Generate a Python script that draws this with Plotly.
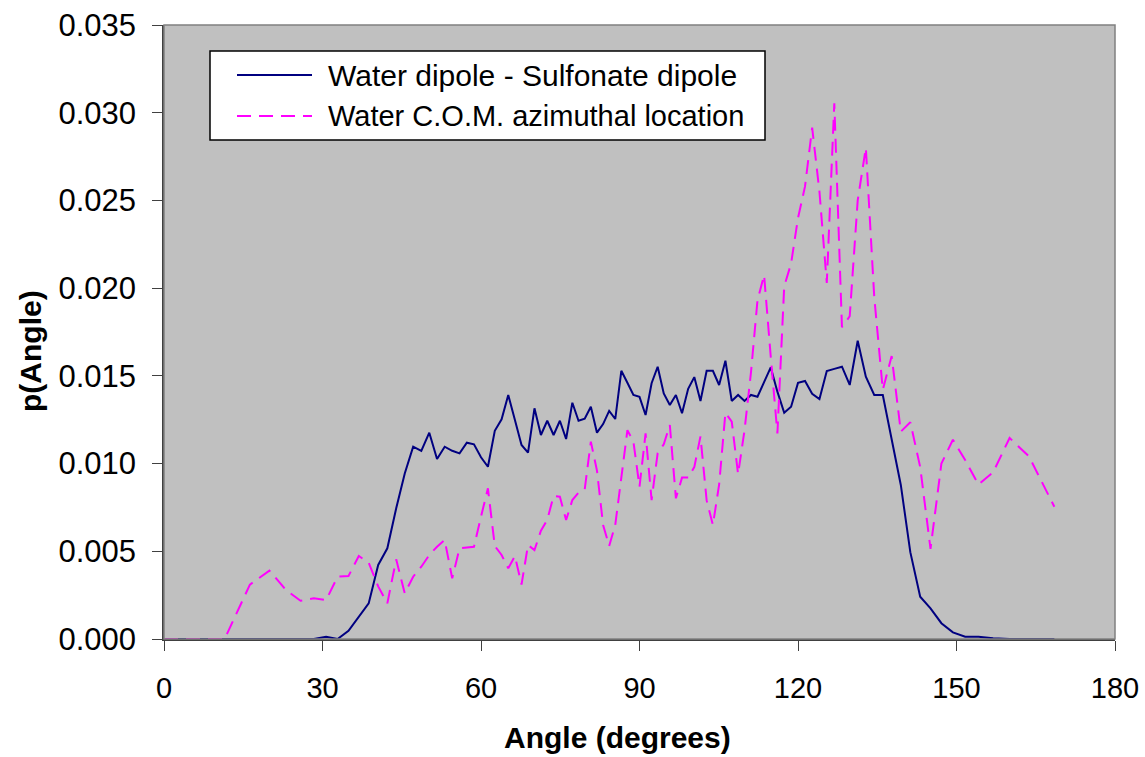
import plotly.graph_objects as go

# Bin angles (degrees)
angle = [0.00, 11.48, 16.26, 19.95, 23.07, 25.84, 28.36, 30.68, 32.86, 34.92,
         36.87, 38.74, 40.54, 42.27, 43.95, 45.57, 47.16, 48.70, 50.21, 51.68,
         53.13, 54.55, 55.94, 57.32, 58.67, 60.00, 61.31, 62.61, 63.90, 65.16,
         66.42, 67.67, 68.90, 70.12, 71.34, 72.54, 73.74, 74.93, 76.11, 77.29,
         78.46, 79.63, 80.79, 81.95, 83.11, 84.26, 85.41, 86.56, 87.71, 88.85,
         90.00, 91.15, 92.29, 93.44, 94.59, 95.74, 96.89, 98.05, 99.21, 100.37,
         101.54, 102.71, 103.89, 105.07, 106.26, 107.46, 108.66, 109.88, 111.10, 112.33,
         113.58, 114.84, 116.10, 117.39, 118.69, 120.00, 121.33, 122.68, 124.06, 125.45,
         126.87, 128.32, 129.79, 131.30, 132.84, 134.43, 136.05, 137.73, 139.46, 141.26,
         143.13, 145.08, 147.14, 149.32, 151.64, 154.16, 156.93, 160.05, 163.74, 168.52]

dipole = [0, 0, 0, 0, 0, 0, 0, 0.00013, 0.0, 0.00047,
          0.00127, 0.00203, 0.00422, 0.00517, 0.00745, 0.00944, 0.01096, 0.01072, 0.01176, 0.01026,
          0.01096, 0.01073, 0.01058, 0.01119, 0.0111, 0.01036, 0.00982, 0.01187, 0.01252, 0.01391,
          0.01248, 0.01106, 0.01062, 0.01315, 0.01163, 0.01244, 0.01163, 0.01244, 0.0114, 0.01347,
          0.01244, 0.01256, 0.01324, 0.01176, 0.01225, 0.0130, 0.01254, 0.01529, 0.01461, 0.01391,
          0.01380, 0.01277, 0.01458, 0.01552, 0.0140, 0.01334, 0.01391, 0.01287, 0.01426, 0.01493,
          0.01357, 0.01529, 0.01529, 0.01448, 0.01586, 0.01357, 0.01391, 0.01357, 0.01391, 0.01381,
          0.01464, 0.01548, 0.0141, 0.0129, 0.01324, 0.01460, 0.01471, 0.01398, 0.01368, 0.01528,
          0.0154, 0.01552, 0.01448, 0.0170, 0.01495, 0.01391, 0.01391, 0.01134, 0.00878, 0.00495,
          0.00241, 0.00175, 0.0009, 0.00038, 0.00013, 0.00013, 0.00004, 0.0, 0.0, 0.0]

azimuthal = [0, 0, 0.0031, 0.0039, 0.0028, 0.00218, 0.00232, 0.00222, 0.00355, 0.00359,
             0.00473, 0.00435, 0.0030, 0.00203, 0.00454, 0.0026, 0.00355, 0.00412, 0.00479, 0.00526,
             0.00564, 0.00346, 0.00517, 0.00523, 0.00526, 0.00697, 0.00859, 0.0053, 0.00479, 0.00403,
             0.00473, 0.0031, 0.00536, 0.00507, 0.00617, 0.0068, 0.00815, 0.00811, 0.00678, 0.00792,
             0.00834, 0.00853, 0.01125, 0.0096, 0.0065, 0.0053, 0.0065, 0.0092, 0.0119, 0.01125,
             0.00868, 0.01172, 0.00792, 0.0106, 0.0111, 0.0122, 0.00802, 0.0092, 0.0092, 0.0098,
             0.01155, 0.0079, 0.0065, 0.0088, 0.0129, 0.01239, 0.0094, 0.0119, 0.0152, 0.0193,
             0.02075, 0.0161, 0.01172, 0.0201, 0.0214, 0.0240, 0.0258, 0.02915, 0.0255, 0.0203,
             0.03054, 0.01777, 0.0184, 0.0250, 0.0280, 0.0195, 0.0142, 0.01613, 0.01182, 0.01236,
             0.0098, 0.00514, 0.0100, 0.01136, 0.0102, 0.0088, 0.0095, 0.01146, 0.0104, 0.00754]

series_names = ["Water dipole - Sulfonate dipole", "Water C.O.M. azimuthal location"]
x_ticks = [0, 30, 60, 90, 120, 150, 180]
y_ticks = [0.000, 0.005, 0.010, 0.015, 0.020, 0.025, 0.030, 0.035]

FONT = "Liberation Sans, Arial, sans-serif"
BLUE = "#000080"
MAGENTA = "#FF00FF"
DASH = "14px,8px"

# plot-area geometry in pixels (for placing the legend box / titles)
W, H = 1145, 757
L, R, T, B = 164, 1115, 25, 639
PW, PH = R - L, B - T


def px(xp):
    return (xp - L) / PW


def py(yp):
    return (B - yp) / PH


fig = go.Figure()
fig.add_trace(go.Scatter(
    x=angle, y=dipole, mode="lines", name=series_names[0],
    line=dict(color=BLUE, width=2), showlegend=False))
fig.add_trace(go.Scatter(
    x=angle, y=azimuthal, mode="lines", name=series_names[1],
    line=dict(color=MAGENTA, width=2, dash=DASH), showlegend=False))

shapes = [
    # plot-area border
    dict(type="rect", xref="paper", yref="paper", x0=0, y0=0, x1=1, y1=1,
         line=dict(color="#808080", width=1.5), layer="above"),
    # legend box
    dict(type="rect", xref="paper", yref="paper",
         x0=px(210), x1=px(765), y0=py(140), y1=py(51),
         line=dict(color="black", width=1.5), fillcolor="white", layer="above"),
    # legend samples
    dict(type="line", xref="paper", yref="paper",
         x0=px(237), x1=px(312), y0=py(75), y1=py(75),
         line=dict(color=BLUE, width=2), layer="above"),
    dict(type="line", xref="paper", yref="paper",
         x0=px(237), x1=px(312), y0=py(116), y1=py(116),
         line=dict(color=MAGENTA, width=2, dash=DASH), layer="above"),
]

annotations = [
    dict(text=series_names[0], xref="paper", yref="paper", x=px(326), y=py(75),
         xanchor="left", yanchor="middle", showarrow=False,
         font=dict(family=FONT, size=30, color="black")),
    dict(text=series_names[1], xref="paper", yref="paper", x=px(326), y=py(116),
         xanchor="left", yanchor="middle", showarrow=False,
         font=dict(family=FONT, size=29, color="black")),
    dict(text="<b>Angle (degrees)</b>", xref="paper", yref="paper",
         x=px(617), y=py(737), xanchor="center", yanchor="middle",
         showarrow=False, font=dict(family=FONT, size=30, color="black")),
    dict(text="<b>p(Angle)</b>", xref="paper", yref="paper",
         x=px(30), y=py(351), xanchor="center", yanchor="middle",
         textangle=-90, showarrow=False, font=dict(family=FONT, size=30, color="black")),
]

fig.update_layout(
    width=W, height=H,
    margin=dict(l=L, r=W - R, t=T, b=H - B, pad=0, autoexpand=False),
    paper_bgcolor="white", plot_bgcolor="#C0C0C0",
    font=dict(family=FONT, size=29, color="black"),
    showlegend=False,
    xaxis=dict(
        range=[0, 180], tickvals=x_ticks, ticktext=[str(v) for v in x_ticks],
        ticks="outside", ticklen=10, tickwidth=1, tickcolor="#404040",
        showgrid=False, zeroline=False, showline=True, linecolor="#404040", linewidth=1.5,
        tickfont=dict(family=FONT, size=29), ticklabelstandoff=12, automargin=False,
    ),
    yaxis=dict(
        range=[0, 0.035], tickvals=y_ticks, ticktext=[f"{v:.3f}" for v in y_ticks],
        ticks="outside", ticklen=10, tickwidth=1, tickcolor="#404040",
        showgrid=False, zeroline=False, showline=True, linecolor="#404040", linewidth=1.5,
        tickfont=dict(family=FONT, size=31), ticklabelstandoff=10, automargin=False,
    ),
    shapes=shapes,
    annotations=annotations,
)

fig.write_html("out.html")
